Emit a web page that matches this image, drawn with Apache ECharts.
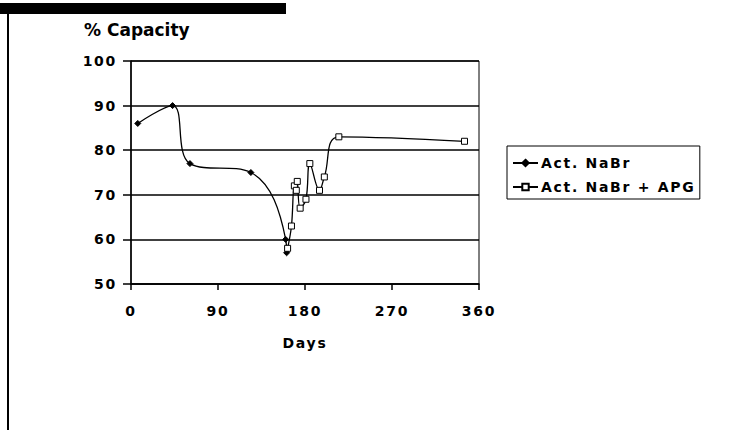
<!DOCTYPE html>
<html>
<head>
<meta charset="utf-8">
<style>
  html, body { margin: 0; padding: 0; background: #fff; }
  #chart { width: 753px; height: 430px; }
  /* wide tracking for axis, tick and legend labels */
  #chart svg text { letter-spacing: 1.7px; }
  #chart svg text.plain { letter-spacing: 0; }
</style>
<script src="https://cdn.jsdelivr.net/npm/echarts@6/dist/echarts.min.js"></script>
</head>
<body>
<div id="chart"></div>
<script>
// Capacity over time for activated NaBr, before and after APG addition
const seriesNames = ['Act. NaBr', 'Act. NaBr + APG'];

const nabrDays = [7, 43, 61, 124, 160, 161];
const nabrCapacity = [86, 90, 77, 75, 60, 57];

const apgDays = [162, 166, 169, 171, 172, 175, 181, 185, 195, 200, 215, 345];
const apgCapacity = [58, 63, 72, 71, 73, 67, 69, 77, 71, 74, 83, 82];

const xTicks = [0, 90, 180, 270, 360];
const yTicks = [50, 60, 70, 80, 90, 100];

const yTitle = '% Capacity';
const FONT = '"DejaVu Sans", Verdana, sans-serif';

const pairs = (xs, ys) => xs.map((x, i) => [x, ys[i]]);

const chart = echarts.init(document.getElementById('chart'), null, { renderer: 'svg' });

chart.setOption({
  animation: false,
  backgroundColor: '#ffffff',
  grid: {
    left: 131, right: 274, top: 61, bottom: 146,
    show: true, borderColor: '#000', borderWidth: 1, backgroundColor: 'transparent'
  },
  xAxis: {
    type: 'value',
    min: xTicks[0], max: xTicks[xTicks.length - 1], interval: 90,
    name: 'Days',
    nameLocation: 'middle',
    nameGap: 52,
    nameTextStyle: { fontFamily: FONT, fontWeight: 'bold', fontSize: 14, color: '#000' },
    axisLine: { show: true, lineStyle: { color: '#000', width: 1.5 } },
    axisTick: { show: true, inside: false, length: 6, lineStyle: { color: '#000', width: 1.5 } },
    axisLabel: { margin: 20, fontFamily: FONT, fontWeight: 'bold', fontSize: 14, color: '#000' },
    splitLine: { show: false }
  },
  yAxis: {
    type: 'value',
    min: yTicks[0], max: yTicks[yTicks.length - 1], interval: 10,
    axisLine: { show: true, lineStyle: { color: '#000', width: 1.5 } },
    axisTick: { show: true, inside: false, length: 8, lineStyle: { color: '#000', width: 1.5 } },
    axisLabel: { margin: 14, fontFamily: FONT, fontWeight: 'bold', fontSize: 14, color: '#000' },
    splitLine: { show: true, lineStyle: { color: '#000', width: 1.5 } }
  },
  legend: {
    orient: 'vertical',
    left: 507, top: 146,
    padding: [10, 30, 5, 5],
    itemGap: 10,
    itemWidth: 25, itemHeight: 8,
    backgroundColor: '#fff',
    borderColor: '#000', borderWidth: 1, borderRadius: 0,
    textStyle: { fontFamily: FONT, fontWeight: 'bold', fontSize: 14, color: '#000', padding: [0, 0, 0, -2] },
    data: seriesNames
  },
  graphic: [
    { type: 'rect', left: 0, top: 3, shape: { width: 286, height: 11 }, style: { fill: '#000' } },
    { type: 'rect', left: 7, top: 3, shape: { width: 2, height: 427 }, style: { fill: '#000' } },
    {
      type: 'text', left: 84, top: 21,
      style: { text: yTitle, font: 'bold 17px ' + FONT, fill: '#000' }
    }
  ],
  series: [
    {
      name: seriesNames[0],
      type: 'line',
      smooth: 0.4,
      data: pairs(nabrDays, nabrCapacity),
      symbol: 'diamond',
      symbolSize: 6,
      lineStyle: { color: '#000', width: 1.3 },
      itemStyle: { color: '#000', borderColor: '#000', borderWidth: 1 },
      z: 3
    },
    {
      name: seriesNames[1],
      type: 'line',
      smooth: 0.4,
      data: pairs(apgDays, apgCapacity),
      symbol: 'rect',
      symbolSize: 6,
      lineStyle: { color: '#000', width: 1.3 },
      itemStyle: { color: '#fff', borderColor: '#000', borderWidth: 1 },
      z: 4
    }
  ]
});

// the axis title keeps normal tracking
function untrackTitle() {
  document.querySelectorAll('#chart svg text').forEach(t => {
    if (t.textContent === yTitle) t.classList.add('plain');
  });
}
untrackTitle();
chart.on('finished', untrackTitle);
</script>
</body>
</html>
